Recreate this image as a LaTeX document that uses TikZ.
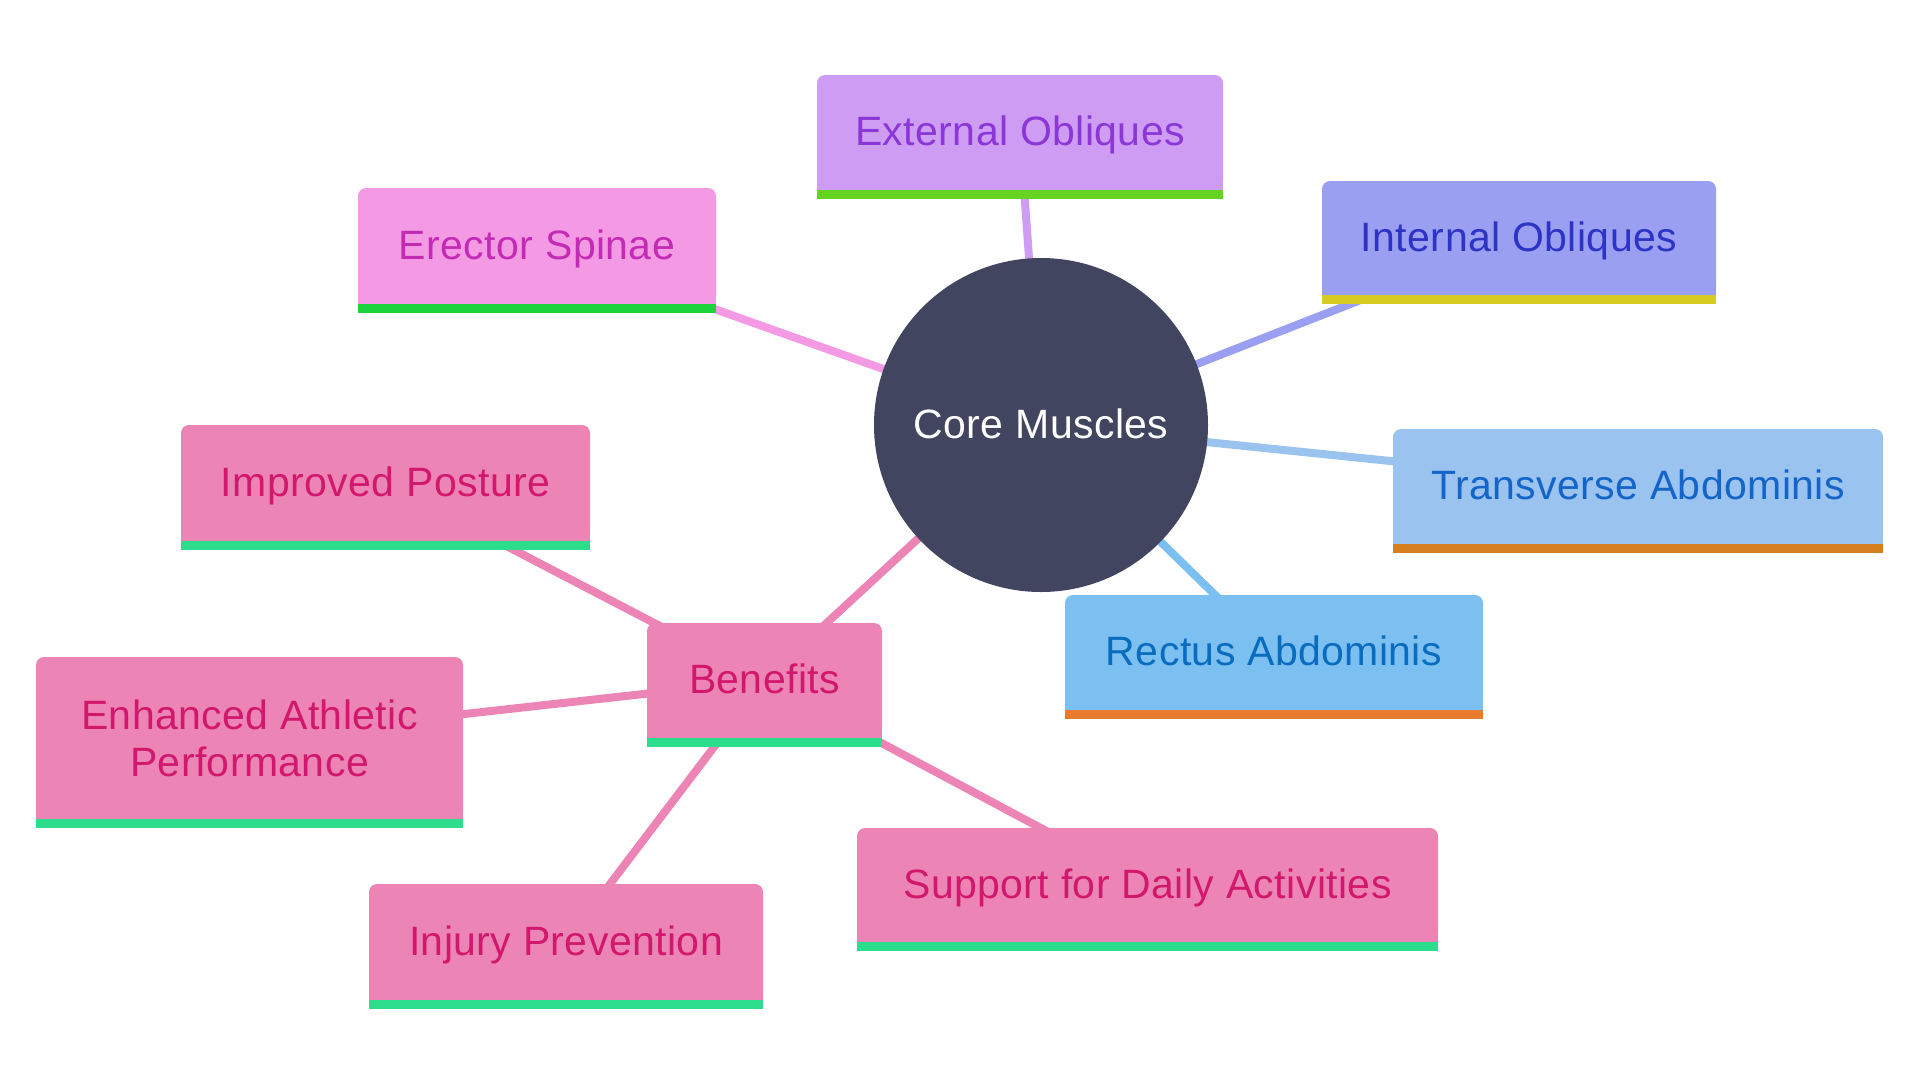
\documentclass[tikz,border=0pt]{standalone}
\usepackage{fontspec}
\setmainfont{Liberation Sans}[LetterSpace=1]
\usetikzlibrary{backgrounds}
\definecolor{esF}{HTML}{F49AE4}\definecolor{esT}{HTML}{C42BB5}\definecolor{esB}{HTML}{1DD33C}
\definecolor{eoF}{HTML}{CE9CF2}\definecolor{eoT}{HTML}{8B36D6}\definecolor{eoB}{HTML}{66D320}
\definecolor{ioF}{HTML}{9A9FF2}\definecolor{ioT}{HTML}{2D33C4}\definecolor{ioB}{HTML}{D6CC21}
\definecolor{taF}{HTML}{9AC3EF}\definecolor{taT}{HTML}{1565C9}\definecolor{taB}{HTML}{D57F20}
\definecolor{raF}{HTML}{7CC0F2}\definecolor{raT}{HTML}{0A6CBF}\definecolor{raB}{HTML}{E87B2E}
\definecolor{bnF}{HTML}{EC85B5}\definecolor{bnT}{HTML}{D2186D}\definecolor{bnB}{HTML}{2CDE8C}
\definecolor{coreF}{HTML}{414560}
\newcommand{\mmbar}[3]{\fill[#2] ([yshift=9pt]#1.south west) rectangle (#1.south east);
  \fill[#3] (#1.south west) rectangle ([yshift=-9pt]#1.south east);}
\tikzset{
  mbox/.style={rectangle, rounded corners=8pt, inner sep=0pt, align=center,
    font={\fontsize{41}{47}\selectfont}},
  oneline/.style={text height=36pt, text depth=10pt},
  link/.style={line width=8pt}
}
\begin{document}
\begin{tikzpicture}[x=1pt,y=-1pt]
\useasboundingbox (0,0) rectangle (1920,1080);
\node[circle, fill=coreF, minimum size=334pt, inner sep=0pt, text=white, oneline,
  font={\fontsize{41}{47}\selectfont}] (core) at (1041,425) {Core Muscles};
\node[mbox, oneline, fill=esF, text=esT, minimum width=358pt, minimum height=116pt] (es) at (537,246) {Erector Spinae};
\node[mbox, oneline, fill=eoF, text=eoT, minimum width=406pt, minimum height=115pt] (eo) at (1020,132.5) {External Obliques};
\node[mbox, oneline, fill=ioF, text=ioT, minimum width=394pt, minimum height=114pt] (io) at (1519,238) {Internal Obliques};
\node[mbox, oneline, fill=taF, text=taT, minimum width=490pt, minimum height=115pt] (ta) at (1638,486.5) {Transverse Abdominis};
\node[mbox, oneline, fill=raF, text=raT, minimum width=418pt, minimum height=115pt] (ra) at (1274,652.5) {Rectus Abdominis};
\node[mbox, oneline, fill=bnF, text=bnT, minimum width=235pt, minimum height=115pt] (bn) at (764.5,680.5) {Benefits};
\node[mbox, oneline, fill=bnF, text=bnT, minimum width=409pt, minimum height=116pt] (ip) at (385.5,483) {Improved Posture};
\node[mbox, fill=bnF, text=bnT, minimum width=427pt, minimum height=162pt] (eap) at (249.5,738) {Enhanced Athletic\\Performance};
\node[mbox, oneline, fill=bnF, text=bnT, minimum width=394pt, minimum height=116pt] (inj) at (566,942) {Injury Prevention};
\node[mbox, oneline, fill=bnF, text=bnT, minimum width=581pt, minimum height=114pt] (sda) at (1147.5,885) {Support for Daily Activities};
\mmbar{es}{esF}{esB}
\mmbar{eo}{eoF}{eoB}
\mmbar{io}{ioF}{ioB}
\mmbar{ta}{taF}{taB}
\mmbar{ra}{raF}{raB}
\mmbar{bn}{bnF}{bnB}
\mmbar{ip}{bnF}{bnB}
\mmbar{eap}{bnF}{bnB}
\mmbar{inj}{bnF}{bnB}
\mmbar{sda}{bnF}{bnB}
\begin{pgfonlayer}{background}
\draw[link, esF] (core.center) -- (es.center);
\draw[link, eoF] (core.center) -- (eo.center);
\draw[link, ioF] (core.center) -- (io.center);
\draw[link, taF] (core.center) -- (ta.center);
\draw[link, raF] (core.center) -- (ra.center);
\draw[link, bnF] (core.center) -- (bn.center);
\draw[link, bnF] (bn.center) -- (ip.center);
\draw[link, bnF] (bn.center) -- (eap.center);
\draw[link, bnF] (bn.center) -- (inj.center);
\draw[link, bnF] (bn.center) -- (sda.center);
\end{pgfonlayer}
\end{tikzpicture}
\end{document}
